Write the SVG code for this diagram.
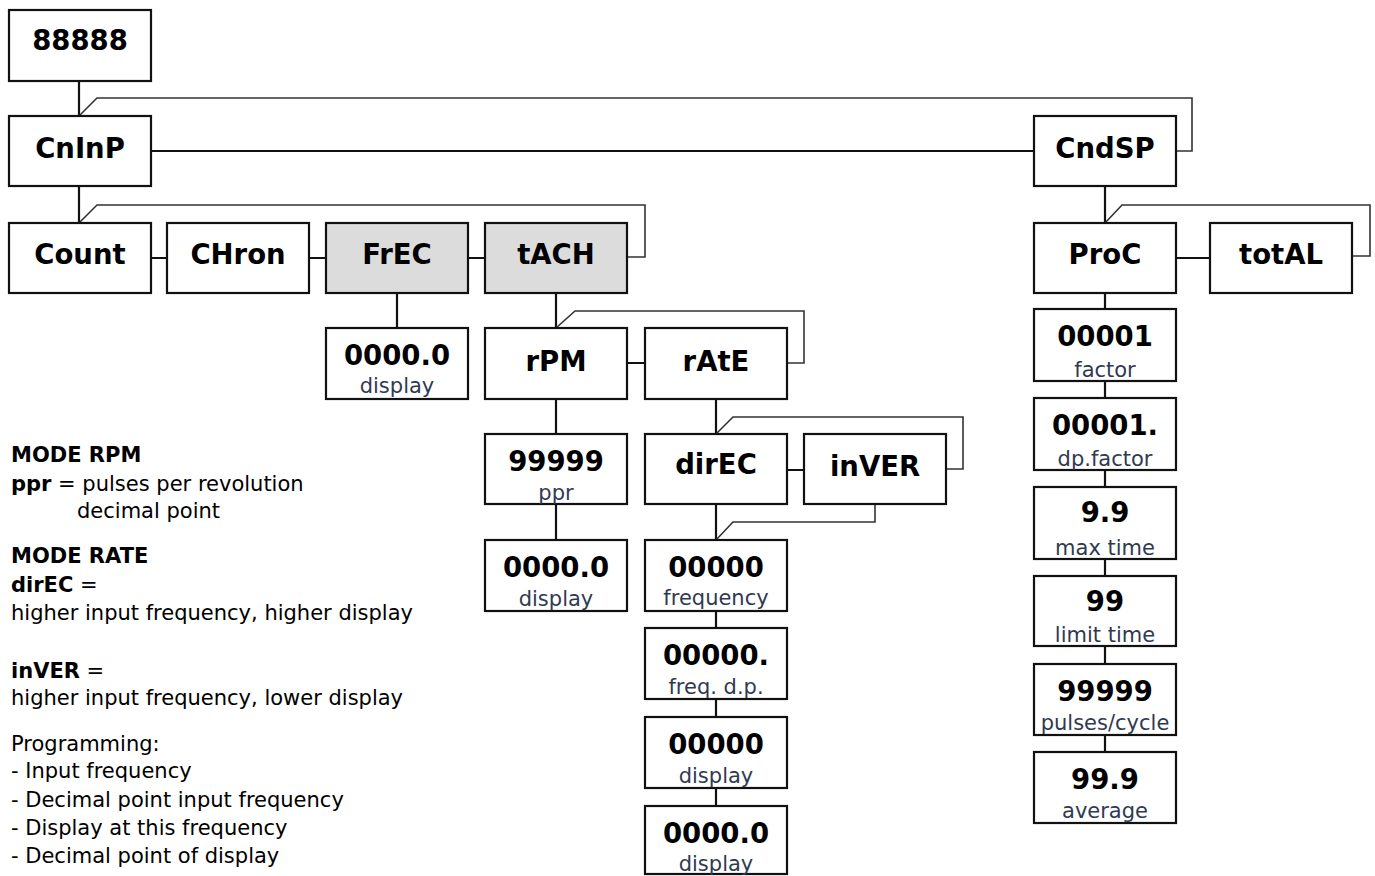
<svg xmlns="http://www.w3.org/2000/svg" width="1375" height="876" viewBox="0 0 1375 876">
<style>
.b{fill:#fff;stroke:#111;stroke-width:2.2}
.g{fill:#dcdcdc;stroke:#111;stroke-width:2.2}
.t{font-family:"DejaVu Sans",Verdana,sans-serif;font-weight:bold;font-size:27.5px;fill:#000;text-anchor:middle}
.s{font-family:"DejaVu Sans",Verdana,sans-serif;font-size:21px;fill:#2f3a52;text-anchor:middle}
.c{fill:none;stroke:#111;stroke-width:2.2}
.l{fill:none;stroke:#333;stroke-width:1.6}
.n{font-family:"DejaVu Sans",Verdana,sans-serif;font-size:21px;fill:#000}
.nb{font-weight:bold}
</style>
<rect width="1375" height="876" fill="#fff"/>
<g id="connectors">
<path class="c" d="M79 81V116M79 186V223M151 258H167M309 258H326M468 258H485M397 293V328M556 293V328M627 363H645M556 399V434M556 504V540M716 399V434M787 470H804M716 504V540M716 611V628M716 699V717M716 788V806M151 151H1034M1105 186V223M1176 258H1210M1105 293V309M1105 381V398M1105 470V487M1105 559V576M1105 646V664M1105 735V752"/>
<path class="l" d="M79 116L97 98H1192V151H1176"/>
<path class="l" d="M79 223L97 205H645V257H627"/>
<path class="l" d="M556 328L575 311H804V363H787"/>
<path class="l" d="M716 434L733 417H963V469H946"/>
<path class="l" d="M875 504V522H733L716 540"/>
<path class="l" d="M1105 223L1122 205H1370V256H1352"/>
</g>
<g id="n88888"><rect class="b" x="9" y="10" width="142" height="71"/><text class="t" x="80" y="50">88888</text></g>
<g id="nCnInP"><rect class="b" x="9" y="116" width="142" height="70"/><text class="t" x="80" y="158">CnInP</text></g>
<g id="nCount"><rect class="b" x="9" y="223" width="142" height="70"/><text class="t" x="80" y="264">Count</text></g>
<g id="nCHron"><rect class="b" x="167" y="223" width="142" height="70"/><text class="t" x="238" y="264">CHron</text></g>
<g id="nFrEC"><rect class="g" x="326" y="223" width="142" height="70"/><text class="t" x="397" y="264">FrEC</text></g>
<g id="ntACH"><rect class="g" x="485" y="223" width="142" height="70"/><text class="t" x="556" y="264">tACH</text></g>
<g id="nFrDisp"><rect class="b" x="326" y="328" width="142" height="71"/><text class="t" x="397" y="365">0000.0</text><text class="s" x="397" y="393">display</text></g>
<g id="nrPM"><rect class="b" x="485" y="328" width="142" height="71"/><text class="t" x="556" y="371">rPM</text></g>
<g id="nrAtE"><rect class="b" x="645" y="328" width="142" height="71"/><text class="t" x="716" y="371">rAtE</text></g>
<g id="nppr"><rect class="b" x="485" y="434" width="142" height="70"/><text class="t" x="556" y="471">99999</text><text class="s" x="556" y="500">ppr</text></g>
<g id="ndirEC"><rect class="b" x="645" y="434" width="142" height="70"/><text class="t" x="716" y="474">dirEC</text></g>
<g id="ninVER"><rect class="b" x="804" y="434" width="142" height="70"/><text class="t" x="875" y="476">inVER</text></g>
<g id="nRpmDisp"><rect class="b" x="485" y="540" width="142" height="71"/><text class="t" x="556" y="577">0000.0</text><text class="s" x="556" y="606">display</text></g>
<g id="nFreq"><rect class="b" x="645" y="540" width="142" height="71"/><text class="t" x="716" y="577">00000</text><text class="s" x="716" y="605">frequency</text></g>
<g id="nFreqDp"><rect class="b" x="645" y="628" width="142" height="71"/><text class="t" x="716" y="665">00000.</text><text class="s" x="716" y="694">freq. d.p.</text></g>
<g id="nDisp1"><rect class="b" x="645" y="717" width="142" height="71"/><text class="t" x="716" y="754">00000</text><text class="s" x="716" y="783">display</text></g>
<g id="nDisp2"><rect class="b" x="645" y="806" width="142" height="68"/><text class="t" x="716" y="843">0000.0</text><text class="s" x="716" y="871">display</text></g>
<g id="nCndSP"><rect class="b" x="1034" y="116" width="142" height="70"/><text class="t" x="1105" y="158">CndSP</text></g>
<g id="nProC"><rect class="b" x="1034" y="223" width="142" height="70"/><text class="t" x="1105" y="264">ProC</text></g>
<g id="ntotAL"><rect class="b" x="1210" y="223" width="142" height="70"/><text class="t" x="1281" y="264">totAL</text></g>
<g id="nFactor"><rect class="b" x="1034" y="309" width="142" height="72"/><text class="t" x="1105" y="346">00001</text><text class="s" x="1105" y="377">factor</text></g>
<g id="nDpFactor"><rect class="b" x="1034" y="398" width="142" height="72"/><text class="t" x="1105" y="435">00001.</text><text class="s" x="1105" y="466">dp.factor</text></g>
<g id="nMaxTime"><rect class="b" x="1034" y="487" width="142" height="72"/><text class="t" x="1105" y="522">9.9</text><text class="s" x="1105" y="555">max time</text></g>
<g id="nLimit"><rect class="b" x="1034" y="576" width="142" height="70"/><text class="t" x="1105" y="611">99</text><text class="s" x="1105" y="642">limit time</text></g>
<g id="nPulses"><rect class="b" x="1034" y="664" width="142" height="71"/><text class="t" x="1105" y="701">99999</text><text class="s" x="1105" y="730">pulses/cycle</text></g>
<g id="nAverage"><rect class="b" x="1034" y="752" width="142" height="71"/><text class="t" x="1105" y="789">99.9</text><text class="s" x="1105" y="818">average</text></g>
<g id="notes">
<text class="n nb" x="11" y="462">MODE RPM</text>
<text class="n" x="11" y="491"><tspan class="nb">ppr</tspan> = pulses per revolution</text>
<text class="n" x="77" y="518">decimal point</text>
<text class="n nb" x="11" y="563">MODE RATE</text>
<text class="n" x="11" y="592"><tspan class="nb">dirEC</tspan> =</text>
<text class="n" x="11" y="620">higher input frequency, higher display</text>
<text class="n" x="11" y="678"><tspan class="nb">inVER</tspan> =</text>
<text class="n" x="11" y="705">higher input frequency, lower display</text>
<text class="n" x="11" y="751">Programming:</text>
<text class="n" x="11" y="778">- Input frequency</text>
<text class="n" x="11" y="807">- Decimal point input frequency</text>
<text class="n" x="11" y="835">- Display at this frequency</text>
<text class="n" x="11" y="863">- Decimal point of display</text>
</g>
</svg>
